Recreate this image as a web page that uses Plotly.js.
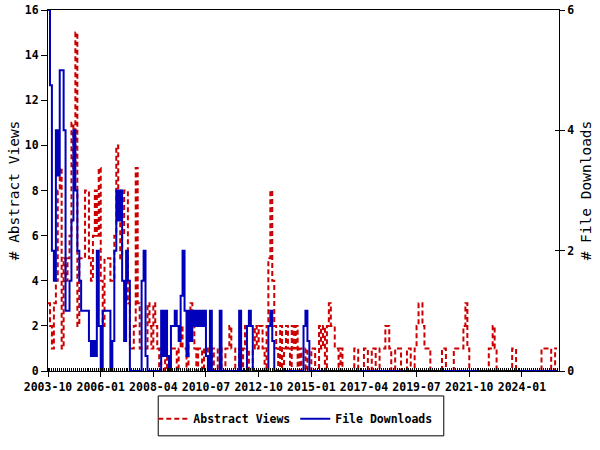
<!DOCTYPE html>
<html>
<head>
<meta charset="utf-8">
<script src="https://cdn.plot.ly/plotly-3.0.1.min.js"></script>
<style>html,body{margin:0;padding:0;background:#fff}#chart{width:600px;height:450px}</style>
</head>
<body>
<div id="chart"></div>
<script>
// Monthly series starting 2003-10
const startYear = 2003, startMonth = 10;

// # Abstract Views (left axis)
const abstractViews = [
 3,2,1,3,4,8,9,1,5,4, 5,6,11,9,15,2,5,5,5,8,
 8,5,4,6,8,6,9,4,2,5, 5,5,4,4,6,10,8,5,6,8,
 8,3,1,1,2,9,3,1,1,1, 1,3,2,1,3,2,1,0,1,1,
 0,1,1,1,1,1,0,1,2,1, 1,0,2,3,2,1,0,1,1,0,
 1,1,0,0,1,0,0,1,1,0, 0,1,1,2,1,1,0,0,1,0,
 1,2,1,0,0,1,2,1,2,2, 1,0,2,5,8,4,2,1,0,2,
 0,1,2,1,0,2,1,2,0,1, 0,0,1,0,0,1,1,0,0,2,
 1,2,0,2,3,2,2,1,1,0, 1,0,0,0,0,0,0,1,1,0,
 0,0,1,1,0,0,1,1,0,0, 1,1,1,2,2,1,0,0,1,1,
 1,0,0,0,1,1,0,0,1,2, 3,3,2,1,1,1,0,0,0,0,
 0,0,1,1,0,0,0,0,1,1, 1,1,1,2,3,1,0,0,0,0,
 0,0,0,0,0,0,1,1,2,1, 0,0,0,0,0,0,0,0,1,1,
 0,0,0,0,0,0,0,0,0,0, 0,0,0,1,1,1,1,1,0,0,
 1,1
];

// # File Downloads (right axis)
const fileDownloads = [
 6,4.75,2,1.5,4,3.25,5,5,4,1, 1,1.5,2.5,4,3,2,1.5,1,1,1,
 1,0.5,0.25,0.5,0.25,2,0.75,0,1,1, 1,1,0,0.5,2,3,2.5,3,1.5,0.5,
 2,1.5,0,0,0,0,0,0,1.5,2, 0.25,0,0,0,0,0,0,0,1,0.25,
 1,0.25,0,0.75,0.75,1,0.75,0.5,1.25,2, 1,0.25,1,0.5,1,0.75,1,0.75,1,0.75,
 1,0.25,0,1,0,0,0,0,1,0, 0,0,0,0,0,0,0,0,1,0,
 0,0,0.75,1,0.75,0,0,0,0,0, 0,0,0,0.75,1,0.5,0,0,0,0,
 0,0,0,0,0,0,0,0,0,0, 0,0.75,1,0.5,0,0,0,0,0,0,
 0,0,0,0,0,0,0,0,0,0, 0,0,0,0,0,0,0,0,0,0,
 0,0,0,0,0,0,0,0,0,0, 0,0,0,0,0,0,0,0,0,0,
 0,0,0,0,0,0,0,0,0,0, 0,0,0,0,0,0,0,0,0,0,
 0,0,0,0,0,0,0,0,0,0, 0,0,0,0,0,0,0,0,0,0,
 0,0,0,0,0,0,0,0,0,0, 0,0,0,0,0,0,0,0,0,0,
 0,0,0,0,0,0,0,0,0,0, 0,0,0,0,0,0,0,0,0,0,
 0,0
];

const leftTicks = [0,2,4,6,8,10,12,14,16];
const rightTicks = [0,2,4,6];

const months = [];
for (let i = 0; i < abstractViews.length; i++) {
  const m0 = startMonth - 1 + i;
  const y = startYear + Math.floor(m0 / 12);
  const m = (m0 % 12) + 1;
  months.push(y + "-" + (m < 10 ? "0" + m : m) + "-01");
}

const FONT = "DejaVu Sans Mono, monospace";
const RED = "#cc0000", BLUE = "#0000bb";

const traces = [
  {x: months, y: abstractViews, name: "Abstract Views", type: "scatter", mode: "lines",
   line: {color: RED, width: 2, dash: "5px,3px", shape: "hv"}, yaxis: "y"},
  {x: months, y: fileDownloads, name: "File Downloads", type: "scatter", mode: "lines",
   line: {color: BLUE, width: 2, shape: "hv"}, yaxis: "y2"},
  {x: [months[0]], y: [null], type: "scatter", mode: "lines", yaxis: "y3",
   showlegend: false, hoverinfo: "skip"}
];

const layout = {
  width: 600, height: 450,
  margin: {l: 48, r: 41, t: 10, b: 79},
  paper_bgcolor: "#fff", plot_bgcolor: "#fff",
  font: {family: FONT, size: 11.5, color: "#000"},
  showlegend: true,
  xaxis: {
    type: "date", range: ["2003-10-01", "2025-08-01"],
    tick0: "2003-10-01", dtick: "M27", tickformat: "%Y-%m",
    ticks: "outside", ticklen: 5, tickcolor: "#000",
    showline: true, linecolor: "#000", linewidth: 1, mirror: true,
    showgrid: false, zeroline: false,
    tickfont: {family: FONT, size: 11.5, weight: "bold"},
    minor: {dtick: "M1", ticks: "inside", ticklen: 3, tickcolor: "#000", showgrid: false}
  },
  yaxis: {
    range: [0, 16], tickvals: leftTicks, ticktext: leftTicks.map(String),
    ticks: "outside", ticklen: 6, tickcolor: "#000",
    showline: true, linecolor: "#000", linewidth: 1,
    showgrid: false, zeroline: false,
    tickfont: {family: FONT, size: 11.5, weight: "bold"},
    title: {text: "# Abstract Views", font: {family: FONT, size: 14.5, weight: "normal"}, standoff: 1}
  },
  yaxis2: {
    range: [0, 6], tickvals: rightTicks, ticktext: rightTicks.map(String),
    overlaying: "y", side: "right",
    ticks: "outside", ticklen: 5, tickcolor: "#000",
    showline: true, linecolor: "#000", linewidth: 1,
    showgrid: false, zeroline: false,
    tickfont: {family: FONT, size: 11.5, weight: "bold"},
    title: {text: "# File Downloads", font: {family: FONT, size: 14.5, weight: "normal"}, standoff: 7}
  },
  yaxis3: {
    range: [0, 6], tickvals: rightTicks, overlaying: "y", side: "right",
    ticks: "inside", ticklen: 4, tickcolor: "#000", showticklabels: false,
    showline: false, showgrid: false, zeroline: false
  },
  legend: {
    orientation: "h", x: 0.484, xanchor: "center", y: -0.132, yanchor: "middle",
    bgcolor: "rgba(0,0,0,0)", borderwidth: 0,
    font: {family: FONT, size: 11.5, weight: "bold"}
  },
  shapes: [{
    type: "rect", xref: "paper", yref: "paper",
    x0: 0.2157, x1: 0.7745, y0: -0.0691, y1: -0.1796,
    line: {color: "#000", width: 1}, fillcolor: "rgba(0,0,0,0)"
  }]
};

Plotly.newPlot("chart", traces, layout, {staticPlot: true, displayModeBar: false});
</script>
</body>
</html>
